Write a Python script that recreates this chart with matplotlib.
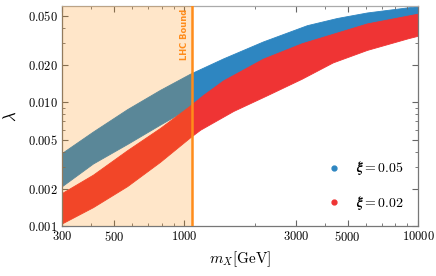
import matplotlib
matplotlib.use("Agg")
import matplotlib.pyplot as plt
from matplotlib.lines import Line2D
from matplotlib.ticker import FixedLocator, NullFormatter, LogLocator
import numpy as np

plt.rcParams['mathtext.fontset'] = 'cm'
plt.rcParams['font.family'] = ['DejaVu Serif']

# band edges (m_X in GeV, lambda)
blue_top_m = [300, 407, 570, 788, 1058, 1465, 2170, 3350, 4500, 6050, 8380, 10000]
blue_top_l = [0.0039, 0.0058, 0.0088, 0.0126, 0.0170, 0.0226, 0.0310, 0.0420, 0.0480, 0.0532, 0.0575, 0.0600]
blue_bot_m = [300, 407, 570, 788, 1080, 1465, 2170, 3350, 6050, 10000]
blue_bot_l = [0.0021, 0.0032, 0.0046, 0.0066, 0.0093, 0.0130, 0.0190, 0.0260, 0.0370, 0.0450]

red_top_m = [300, 407, 570, 788, 1058, 1200, 1465, 2170, 3180, 6050, 10000]
red_top_l = [0.00185, 0.0026, 0.0041, 0.0062, 0.0094, 0.0114, 0.0150, 0.0225, 0.0300, 0.0434, 0.0521]
red_bot_m = [300, 407, 570, 788, 1058, 1170, 1620, 2260, 3180, 4320, 6050, 9100, 10000]
red_bot_l = [0.00105, 0.00142, 0.00210, 0.0033, 0.0052, 0.0060, 0.0085, 0.0114, 0.0155, 0.0210,
             0.0265, 0.0330, 0.0345]

lhc_bound = 1080
series_labels = [r'$\boldsymbol{\xi = 0.05}$', r'$\boldsymbol{\xi = 0.02}$']
xticks = [300, 500, 1000, 3000, 5000, 10000]
yticks = [0.001, 0.002, 0.005, 0.010, 0.020, 0.050]

blue = '#2E86C1'
red = '#EF3434'
orange = '#FF8C1A'


def interp_log(mx, my, grid):
    return np.exp(np.interp(np.log(grid), np.log(mx), np.log(my)))


fig = plt.figure(figsize=(4.36, 2.76), dpi=100)
ax = fig.add_axes([62/436, 50/276, 356/436, 220/276])
ax.set_xscale('log')
ax.set_yscale('log')

grid_b = np.unique(np.concatenate([blue_top_m, blue_bot_m]))
ax.fill_between(grid_b, interp_log(blue_bot_m, blue_bot_l, grid_b),
                interp_log(blue_top_m, blue_top_l, grid_b),
                color=blue, lw=0.6, ec=blue, zorder=1)
grid_r = np.unique(np.concatenate([red_top_m, red_bot_m]))
ax.fill_between(grid_r, interp_log(red_bot_m, red_bot_l, grid_r),
                interp_log(red_top_m, red_top_l, grid_r),
                color=red, lw=0.6, ec=red, zorder=2)

ax.axvspan(300, lhc_bound, color='#FF8C00', alpha=0.21, lw=0, zorder=3)
ax.axvline(lhc_bound, color=orange, lw=1.8, zorder=4)
ax.text(lhc_bound*0.975, 0.057, 'LHC Bound', rotation=90, color=orange,
        fontsize=6, fontweight='bold', family='DejaVu Sans',
        ha='right', va='top', zorder=5)

ax.set_xlim(300, 10000)
ax.set_ylim(0.001, 0.06)

ax.xaxis.set_major_locator(FixedLocator(xticks))
ax.set_xticklabels([r'$%d$' % t for t in xticks], fontsize=9)
ax.xaxis.set_minor_locator(LogLocator(base=10, subs=np.arange(2, 10)))
ax.xaxis.set_minor_formatter(NullFormatter())
ax.yaxis.set_major_locator(FixedLocator(yticks))
ax.set_yticklabels([r'$%.3f$' % t for t in yticks], fontsize=9)
ax.yaxis.set_minor_locator(LogLocator(base=10, subs=np.arange(2, 10)))
ax.yaxis.set_minor_formatter(NullFormatter())

ax.tick_params(which='both', direction='in', top=True, right=True, color='#666666')
ax.tick_params(which='major', length=4, width=0.8, pad=3)
ax.tick_params(which='minor', length=2.5, width=0.6)
for s in ax.spines.values():
    s.set_color('#777777')
    s.set_linewidth(0.9)
ax.spines['top'].set_color('#aaaaaa')

ax.set_xlabel(r'$m_X[\mathrm{GeV}]$', fontsize=11, labelpad=4)
ax.set_ylabel(r'$\lambda$', fontsize=12, labelpad=6)

handles = [Line2D([], [], ls='none', marker='o', ms=3.5, color=blue),
           Line2D([], [], ls='none', marker='o', ms=3.5, color=red)]
ax.legend(handles, series_labels, loc='lower right', frameon=False,
          fontsize=10, labelspacing=1.2, handletextpad=0.6,
          borderaxespad=0.6)

fig.savefig('out.png', dpi=100)
